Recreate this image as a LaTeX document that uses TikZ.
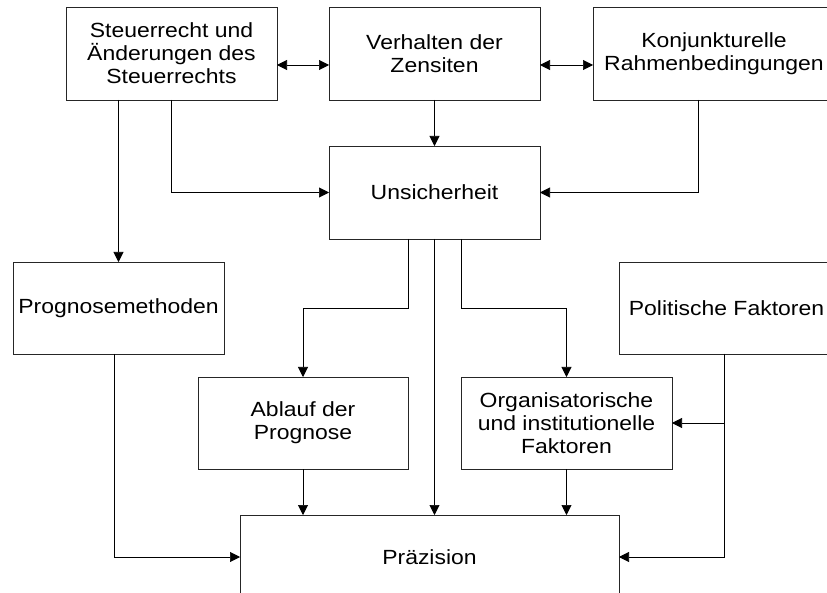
\documentclass[tikz,border=0pt]{standalone}
\usepackage{fontspec}
\setmainfont{Liberation Sans}[FakeStretch=1.12]
\usetikzlibrary{arrows.meta}

\tikzset{
  box/.style={draw=black!85, line width=0.8pt, rectangle, inner sep=0pt, outer sep=0pt,
    align=center, font=\fontsize{20.5}{23}\selectfont},
  >={Triangle[length=10pt,width=10pt]}
}

\begin{document}
\begin{tikzpicture}[x=1pt,y=-1pt,line width=0.6pt]
\useasboundingbox (0,0) rectangle (827,593);
\clip (0,0) rectangle (827,593);

\node[box, minimum width=211pt, minimum height=93pt] (steuer) at (171.5,53.5) {Steuerrecht und\\Änderungen des\\Steuerrechts};
\node[box, minimum width=211pt, minimum height=93pt] (verhalten) at (434.5,53.5) {Verhalten der\\Zensiten};
\node[box, minimum width=242pt, minimum height=93pt] (konj) at (714,53.5) {Konjunkturelle\\Rahmenbedingungen};

\node[box, minimum width=211pt, minimum height=93pt] (unsich) at (434.5,192.5) {Unsicherheit};

\node[box, minimum width=211pt, minimum height=92pt] (prog) at (118.5,308) {Prognosemethoden};
\node[box, minimum width=215pt, minimum height=92pt] (polit) at (726.5,308) {Politische Faktoren};

\node[box, minimum width=210pt, minimum height=92pt] (ablauf) at (303,423) {Ablauf der\\Prognose};
\node[box, minimum width=211pt, minimum height=92pt] (org) at (566.5,423) {Organisatorische\\und institutionelle\\Faktoren};

\node[box, minimum width=379pt, minimum height=84pt] (praez) at (429.5,557) {Präzision};

%top row
\draw [<->] ([yshift=-11.5pt]steuer.east) -- ([yshift=-11.5pt]verhalten.west);
\draw [<->] ([yshift=-11.5pt]verhalten.east) -- ([yshift=-11.5pt]konj.west);

\draw [->] (steuer.south -| prog.north) -- (prog.north);
\draw [->] (steuer.south) |- (unsich.west);
\draw [->] (verhalten.south) -- (unsich.north);
\draw [->] ([xshift=-16pt]konj.south) |- (unsich.east);

%from Unsicherheit
\draw [->] ([xshift=-26.5pt]unsich.south) -- ++(0,69) -| (ablauf.north);
\draw [->] (unsich.south) -- (unsich.south |- praez.north);
\draw [->] ([xshift=26.5pt]unsich.south) -- ++(0,69) -| (org.north);

%into Praezision
\draw [->] (ablauf.south) -- (ablauf.south |- praez.north);
\draw [->] (org.south) -- (org.south |- praez.north);
\draw [->] ([xshift=-4.5pt]prog.south) |- (praez.west);
\draw [->] ([xshift=-2.5pt]polit.south) |- (praez.east);
\draw [->] ([xshift=-2.5pt]polit.south) |- (org.east);

\end{tikzpicture}
\end{document}
